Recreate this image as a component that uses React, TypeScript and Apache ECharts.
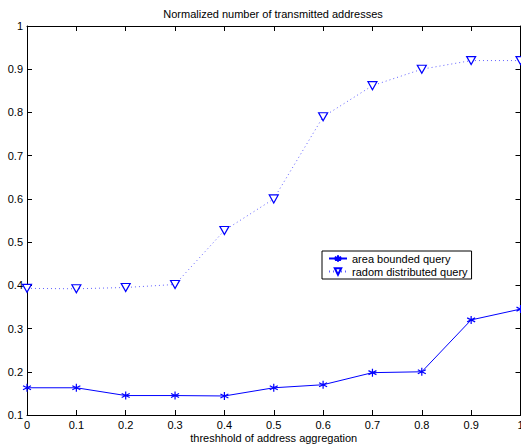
import React, { useEffect, useRef } from "react";
import * as echarts from "echarts";

const titleText = "Normalized number of transmitted addresses";
const xAxisName = "threshhold of address aggregation";
const thresholds = [0, 0.1, 0.2, 0.3, 0.4, 0.5, 0.6, 0.7, 0.8, 0.9, 1];
const areaBounded = [0.163, 0.163, 0.145, 0.145, 0.144, 0.163, 0.17, 0.198, 0.2, 0.32, 0.345];
const radomDistributed = [0.393, 0.392, 0.395, 0.402, 0.527, 0.6, 0.79, 0.862, 0.9, 0.92, 0.92];
const seriesNames = ["area bounded query", "radom distributed query"];

const starPath = "path://M5,0 L5,10 M0.67,2.5 L9.33,7.5 M0.67,7.5 L9.33,2.5";

export default function App() {
  const ref = useRef<HTMLDivElement>(null);
  useEffect(() => {
    const chart = echarts.init(ref.current!, null, { renderer: "svg" });
    const font = "Liberation Sans, Arial, sans-serif";
    const fmt = (v: number) => String(Number(v.toFixed(1)));
    chart.setOption({
      animation: false,
      backgroundColor: "#fff",
      textStyle: { fontFamily: font },
      title: {
        text: titleText,
        left: 273,
        textAlign: "center",
        top: 8,
        padding: 0,
        textStyle: { fontSize: 11, fontWeight: "normal", color: "#000", fontFamily: font },
      },
      grid: { left: 27, right: 0.5, top: 26, bottom: 30, containLabel: false, outerBoundsMode: "none" },
      legend: {
        left: 322,
        top: 251,
        orient: "vertical",
        backgroundColor: "#fff",
        borderColor: "#000",
        borderWidth: 1,
        borderRadius: 0,
        padding: [2, 4, 2, 6],
        itemGap: 2,
        itemWidth: 18,
        itemHeight: 8,
        textStyle: { fontSize: 11, color: "#000", fontFamily: font },
        data: seriesNames,
      },
      xAxis: [
        {
          type: "value",
          min: 0,
          max: 1,
          interval: 0.1,
          name: xAxisName,
          nameLocation: "middle",
          nameGap: 17,
          nameMoveOverlap: false,
          nameTextStyle: { fontSize: 11, color: "#000", verticalAlign: "top", lineHeight: 12 },
          axisLine: { lineStyle: { color: "#000", width: 1 } },
          axisTick: { inside: true, length: 5, lineStyle: { color: "#000" } },
          axisLabel: { formatter: fmt, fontSize: 11, color: "#000", margin: 4, showMaxLabel: true },
          splitLine: { show: false },
        },
        {
          type: "value",
          position: "top",
          min: 0,
          max: 1,
          interval: 0.1,
          axisLine: { show: true, onZero: false, lineStyle: { color: "#000", width: 1 } },
          axisTick: { inside: true, length: 5, lineStyle: { color: "#000" } },
          axisLabel: { show: false },
          splitLine: { show: false },
        },
      ],
      yAxis: [
        {
          type: "value",
          min: 0.1,
          max: 1,
          interval: 0.1,
          axisLine: { show: true, onZero: false, lineStyle: { color: "#000", width: 1 } },
          axisTick: { show: true, inside: true, length: 5, lineStyle: { color: "#000" } },
          axisLabel: { formatter: fmt, fontSize: 11, color: "#000", margin: 4 },
          splitLine: { show: false },
        },
        {
          type: "value",
          position: "right",
          min: 0.1,
          max: 1,
          interval: 0.1,
          axisLine: { show: true, onZero: false, lineStyle: { color: "#000", width: 1 } },
          axisTick: { show: true, inside: true, length: 5, lineStyle: { color: "#000" } },
          axisLabel: { show: false },
          splitLine: { show: false },
        },
      ],
      series: [
        {
          name: seriesNames[0],
          type: "line",
          data: thresholds.map((x, i) => [x, areaBounded[i]]),
          symbol: starPath,
          symbolSize: 8,
          showAllSymbol: true,
          itemStyle: { color: "#0000ff", borderColor: "#0000ff", borderWidth: 1.2 },
          lineStyle: { color: "#0000ff", width: 1 },
        },
        {
          name: seriesNames[1],
          type: "line",
          data: thresholds.map((x, i) => [x, radomDistributed[i]]),
          symbol: "triangle",
          symbolRotate: 180,
          symbolSize: [9, 8],
          showAllSymbol: true,
          itemStyle: { color: "#fff", borderColor: "#0000ff", borderWidth: 1.2 },
          lineStyle: { color: "#6060ff", width: 1, type: [1, 3] },
        },
      ],
    });
    return () => chart.dispose();
  }, []);
  return <div ref={ref} style={{ width: 521, height: 445, position: "absolute", left: 0, top: 0 }} />;
}
